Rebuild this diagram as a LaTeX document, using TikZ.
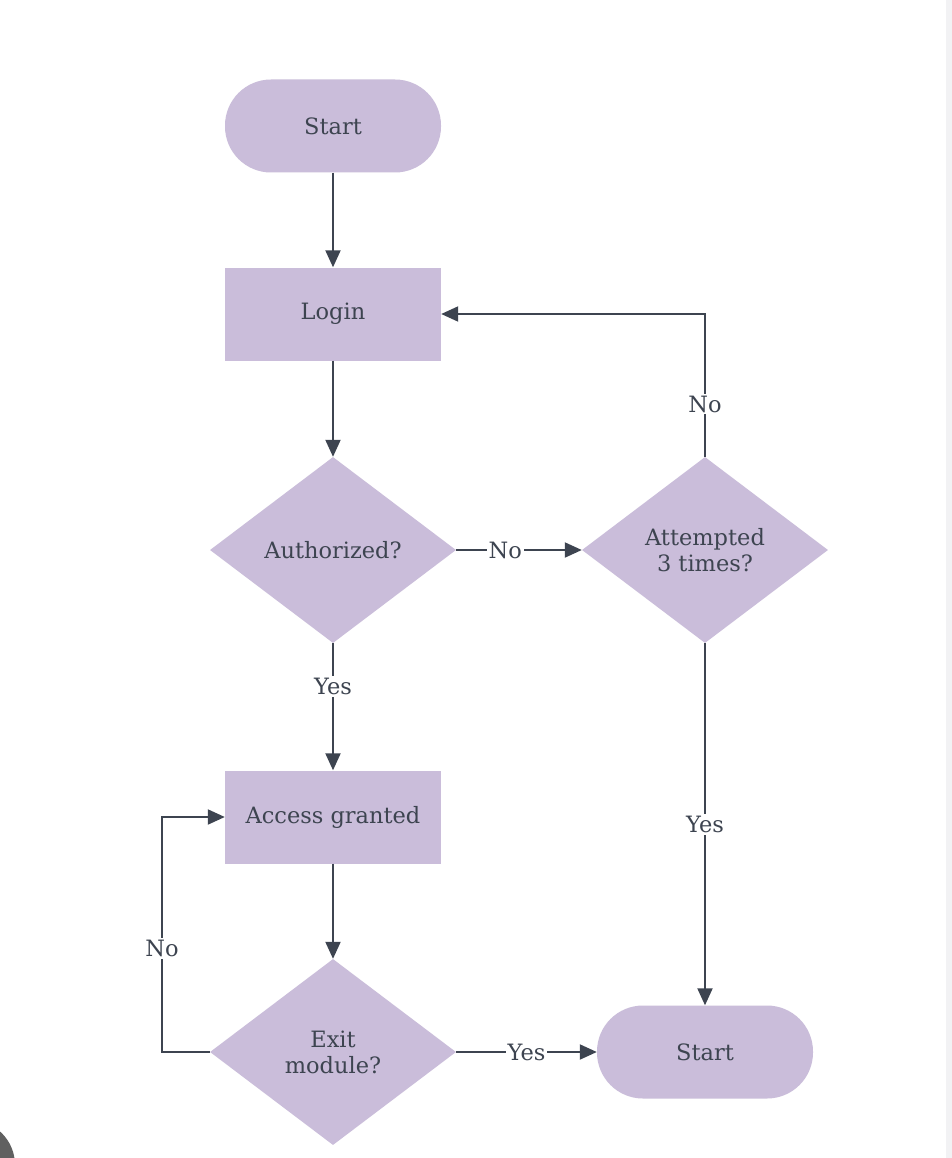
\documentclass[tikz,border=0pt]{standalone}
\usepackage{fontspec}
\setmainfont{DejaVu Serif}
\usetikzlibrary{arrows.meta,shapes.geometric}
\definecolor{boxfill}{HTML}{CABDDA}
\definecolor{ink}{HTML}{3D4450}
\definecolor{strip}{HTML}{F2F2F4}
\definecolor{blob}{HTML}{606060}
\tikzset{
  base/.style={fill=boxfill, text=ink, font=\fontsize{22.5}{26}\selectfont, inner sep=0pt, align=center},
  terminal/.style={base, rectangle, rounded corners=46pt, minimum width=216pt, minimum height=93pt},
  process/.style={base, rectangle, minimum width=216pt, minimum height=93pt},
  decision/.style={base, diamond, minimum width=246pt, minimum height=186pt},
  conn/.style={draw=ink, line width=2pt, -{Triangle[length=17pt,width=15pt]}},
  lbl/.style={fill=white, text=ink, font=\fontsize{22.5}{26}\selectfont, inner sep=2pt}
}
\begin{document}
\begin{tikzpicture}[x=1pt,y=-1pt]
\useasboundingbox (0,0) rectangle (952,1158);
\fill[white] (0,0) rectangle (952,1158);
\fill[strip] (946,0) rectangle (952,1158);
\begin{scope}
\clip (0,0) rectangle (952,1158);
\fill[blob] (-30,1165) circle[radius=45];
\end{scope}

\node[terminal] (start) at (333,126) {Start};
\node[process] (login) at (333,314) {Login};
\node[decision] (auth) at (333,550) {Authorized?};
\node[decision] (att) at (705,550) {Attempted\\3 times?};
\node[process] (acc) at (333,817) {Access granted};
\node[decision] (exit) at (333,1052) {Exit\\module?};
\node[terminal] (end) at (705,1052) {Start};

\draw[conn] (start) -- (login);
\draw[conn] (login) -- (auth);
\draw[conn] (auth.east) -- node[lbl, pos=0.39] {No} (att.west);
\draw[conn] (att.north) -- node[lbl, pos=0.37] {No} (att.north |- login.east) -- (login.east);
\draw[conn] (auth.south) -- node[lbl, pos=0.34] {Yes} (acc.north);
\draw[conn] (att.south) -- node[lbl, pos=0.5] {Yes} (end.north);
\draw[conn] (acc) -- (exit);
\coordinate (lp) at (162,1052);
\draw[conn] (exit.west) -- (lp) -- node[lbl, pos=0.44] {No} (lp |- acc.west) -- (acc.west);
\draw[conn] (exit.east) -- node[lbl, pos=0.5] {Yes} (end.west);
\end{tikzpicture}
\end{document}
